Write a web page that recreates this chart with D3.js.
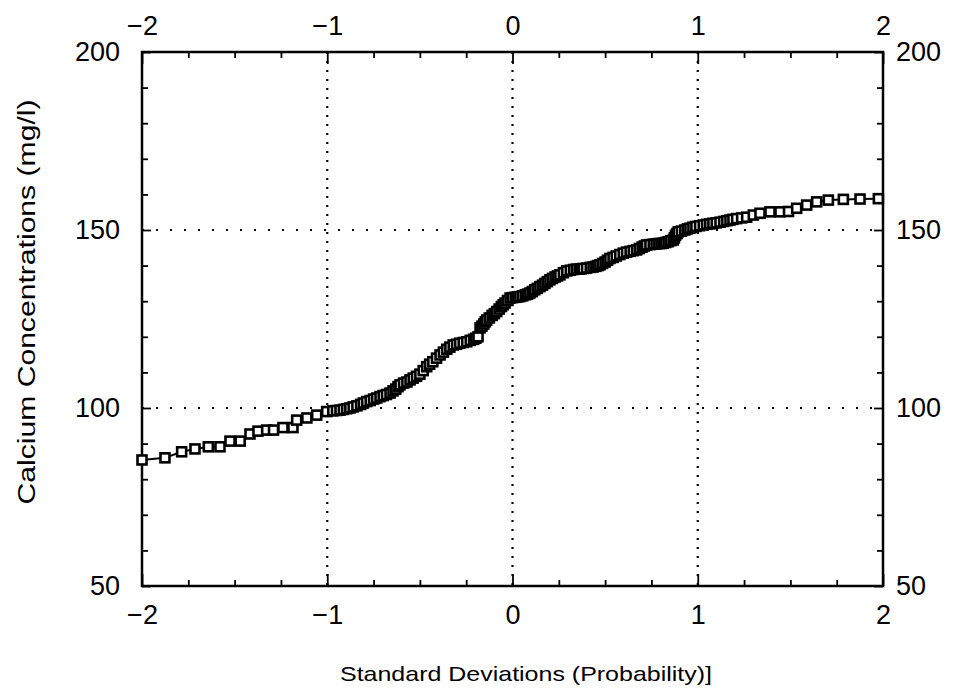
<!DOCTYPE html>
<html>
<head>
<meta charset="utf-8">
<script src="https://cdn.jsdelivr.net/npm/d3@7"></script>
<style>
  body { margin: 0; background: #fff; }
  text { font-family: "Liberation Sans", Arial, sans-serif; fill: #000; }
</style>
</head>
<body>
<div id="chart"></div>
<script>
// standard deviations (normal score) and calcium concentration (mg/l)
const zScores = [
  -2.0, -1.876, -1.786, -1.714, -1.642, -1.579, -1.525, -1.47, -1.417, -1.374,
  -1.327, -1.29, -1.239, -1.185, -1.165, -1.11, -1.057, -1.003, -0.97, -0.931,
  -0.895, -0.86, -0.82, -0.787, -0.75, -0.715, -0.68, -0.661, -0.63, -0.607,
  -0.57, -0.536, -0.5, -0.463, -0.43, -0.391, -0.355, -0.32, -0.285, -0.247,
  -0.21, -0.186, -0.175, -0.155, -0.139, -0.11, -0.085, -0.06, -0.04, -0.013,
  0.015, 0.04, 0.07, 0.094, 0.12, 0.148, 0.175, 0.202, 0.23, 0.256,
  0.293, 0.33, 0.36, 0.382, 0.42, 0.45, 0.472, 0.5, 0.526, 0.56,
  0.598, 0.635, 0.67, 0.7, 0.724, 0.76, 0.79, 0.814, 0.84, 0.868,
  0.88, 0.895, 0.93, 0.958, 0.99, 1.03, 1.065, 1.1, 1.14, 1.174,
  1.21, 1.264, 1.3, 1.336, 1.39, 1.444, 1.49, 1.534, 1.588, 1.642,
  1.705, 1.786, 1.876, 1.975
];
const calcium = [
  85.4, 86.0, 87.7, 88.5, 89.1, 89.1, 90.7, 90.7, 92.7, 93.5,
  93.8, 93.8, 94.5, 94.5, 96.6, 97.2, 98.0, 99.0, 99.2, 99.4,
  99.8, 100.3, 101.0, 101.8, 102.5, 103.2, 103.8, 104.2, 105.3, 106.5,
  107.3, 108.4, 109.5, 111.6, 113.0, 114.9, 116.5, 117.7, 118.2, 118.6,
  119.3, 120.0, 122.5, 123.6, 124.7, 126.0, 127.1, 128.5, 129.5, 130.9,
  131.1, 131.3, 131.8, 132.3, 133.2, 134.1, 135.0, 136.0, 136.8, 137.4,
  138.5, 138.9, 139.0, 139.2, 139.5, 139.8, 140.2, 141.0, 142.0, 142.7,
  143.5, 144.0, 144.4, 145.2, 145.8, 146.0, 146.2, 146.3, 146.7, 147.2,
  148.5, 149.5, 150.0, 150.5, 151.0, 151.4, 151.7, 152.0, 152.4, 152.8,
  153.2, 153.6, 154.2, 154.7, 155.1, 155.1, 155.2, 156.1, 157.0, 157.9,
  158.4, 158.6, 158.7, 158.8
];
// extra points in the dense middle band
const zScoresMid = [
  -0.95, -0.913, -0.878, -0.84, -0.805, -0.768, -0.733, -0.698, -0.645, -0.618,
  -0.588, -0.553, -0.518, -0.482, -0.447, -0.41, -0.373, -0.338, -0.302, -0.266,
  -0.228, -0.198, -0.165, -0.147, -0.125, -0.098, -0.072, -0.05, -0.027, 0.0,
  0.028, 0.055, 0.082, 0.107, 0.134, 0.162, 0.188, 0.216, 0.243, 0.275,
  0.312, 0.345, 0.371, 0.4, 0.435, 0.461, 0.486, 0.513, 0.543, 0.579,
  0.616, 0.652, 0.685, 0.712, 0.742, 0.775, 0.802, 0.827, 0.854, 0.874,
  0.888, 0.912, 0.944, 0.974, 1.01, 1.048, 1.082, 1.12, 1.157, 1.19,
  1.237
];
const calciumMid = [
  99.3, 99.6, 100.0, 100.6, 101.4, 102.1, 102.8, 103.5, 104.8, 106.0,
  107.0, 107.9, 108.9, 110.5, 112.3, 114.0, 115.7, 117.1, 117.9, 118.4,
  119.0, 119.6, 123.0, 124.2, 125.3, 126.5, 127.8, 129.0, 130.2, 131.0,
  131.2, 131.5, 132.0, 132.7, 133.6, 134.5, 135.5, 136.4, 137.1, 138.0,
  138.7, 139.0, 139.1, 139.3, 139.6, 140.0, 140.6, 141.5, 142.3, 143.1,
  143.8, 144.2, 144.8, 145.5, 145.9, 146.1, 146.2, 146.5, 147.0, 147.8,
  149.0, 149.7, 150.3, 150.8, 151.2, 151.6, 151.9, 152.2, 152.6, 153.0,
  153.4
];

const xMajor = [-2, -1, 0, 1, 2];
const xMinor = [-1.75, -1.5, -1.25, -0.75, -0.5, -0.25, 0.25, 0.5, 0.75, 1.25, 1.5, 1.75];
const yMajor = [50, 100, 150, 200];
const yMinor = [60, 70, 80, 90, 110, 120, 130, 140, 160, 170, 180, 190];
const xGrid = [-1, 0, 1];
const yGrid = [100, 150];

const width = 961, height = 689;
const mLeft = 142, mRight = 883, mTop = 52, mBottom = 586;

const data = zScores.map((z, i) => ({z: z, v: calcium[i]}))
  .concat(zScoresMid.map((z, i) => ({z: z, v: calciumMid[i]})))
  .sort((a, b) => a.z - b.z);

const x = d3.scaleLinear().domain([-2, 2]).range([mLeft, mRight]);
const y = d3.scaleLinear().domain([50, 200]).range([mBottom, mTop]);
const fmt = d => d3.format("")(d).replace("-", "\u2212");

const svg = d3.select("#chart").append("svg")
  .attr("width", width)
  .attr("height", height);

// dotted grid
svg.append("g").selectAll("line.vg")
  .data(xGrid).enter().append("line")
  .attr("x1", d => x(d)).attr("x2", d => x(d))
  .attr("y1", mTop).attr("y2", mBottom)
  .attr("stroke", "#000").attr("stroke-width", 2.2)
  .attr("stroke-dasharray", "2,7");
svg.append("g").selectAll("line.hg")
  .data(yGrid).enter().append("line")
  .attr("x1", mLeft).attr("x2", mRight)
  .attr("y1", d => y(d)).attr("y2", d => y(d))
  .attr("stroke", "#000").attr("stroke-width", 2.2)
  .attr("stroke-dasharray", "2,12");

function styleAxis(g) {
  g.select(".domain").remove();
  g.selectAll(".tick line").attr("stroke", "#000").attr("stroke-width", 1.8);
  g.selectAll(".tick text").style("font-size", "27px").style("font-family", "Liberation Sans, Arial, sans-serif");
}

// minor ticks (inward)
svg.append("g").attr("transform", "translate(0," + mBottom + ")")
  .call(d3.axisBottom(x).tickValues(xMinor).tickSize(-6).tickFormat("")).call(styleAxis);
svg.append("g").attr("transform", "translate(0," + mTop + ")")
  .call(d3.axisTop(x).tickValues(xMinor).tickSize(-6).tickFormat("")).call(styleAxis);
svg.append("g").attr("transform", "translate(" + mLeft + ",0)")
  .call(d3.axisLeft(y).tickValues(yMinor).tickSize(-6).tickFormat("")).call(styleAxis);
svg.append("g").attr("transform", "translate(" + mRight + ",0)")
  .call(d3.axisRight(y).tickValues(yMinor).tickSize(-6).tickFormat("")).call(styleAxis);

// major ticks with labels
svg.append("g").attr("transform", "translate(0," + mBottom + ")")
  .call(d3.axisBottom(x).tickValues(xMajor).tickSize(-12).tickPadding(19).tickFormat(fmt)).call(styleAxis);
svg.append("g").attr("transform", "translate(0," + mTop + ")")
  .call(d3.axisTop(x).tickValues(xMajor).tickSize(-12).tickPadding(17).tickFormat(fmt)).call(styleAxis);
svg.append("g").attr("transform", "translate(" + mLeft + ",0)")
  .call(d3.axisLeft(y).tickValues(yMajor).tickSize(-9).tickPadding(22).tickFormat(fmt)).call(styleAxis);
svg.append("g").attr("transform", "translate(" + mRight + ",0)")
  .call(d3.axisRight(y).tickValues(yMajor).tickSize(-9).tickPadding(13).tickFormat(fmt)).call(styleAxis);

// frame
svg.append("rect")
  .attr("x", mLeft).attr("y", mTop)
  .attr("width", mRight - mLeft).attr("height", mBottom - mTop)
  .attr("fill", "none").attr("stroke", "#000").attr("stroke-width", 2.5);

// connecting line
svg.append("path")
  .datum(data)
  .attr("fill", "none")
  .attr("stroke", "#000")
  .attr("stroke-width", 2)
  .attr("d", d3.line().x(d => x(d.z)).y(d => y(d.v)));

// open square markers
svg.append("g").selectAll("rect.pt")
  .data(data).enter().append("rect")
  .attr("x", d => x(d.z) - 4.5)
  .attr("y", d => y(d.v) - 4.5)
  .attr("width", 9).attr("height", 9)
  .attr("fill", "#fff")
  .attr("stroke", "#000")
  .attr("stroke-width", 2.6);

// axis titles
svg.append("text")
  .attr("x", 526).attr("y", 681)
  .attr("text-anchor", "middle")
  .attr("textLength", 372)
  .attr("lengthAdjust", "spacingAndGlyphs")
  .style("font-size", "21px")
  .text("Standard Deviations (Probability)]");

svg.append("text")
  .attr("transform", "translate(35,302) rotate(-90)")
  .attr("text-anchor", "middle")
  .attr("textLength", 405)
  .attr("lengthAdjust", "spacingAndGlyphs")
  .style("font-size", "23px")
  .text("Calcium Concentrations (mg/l)");
</script>
</body>
</html>
